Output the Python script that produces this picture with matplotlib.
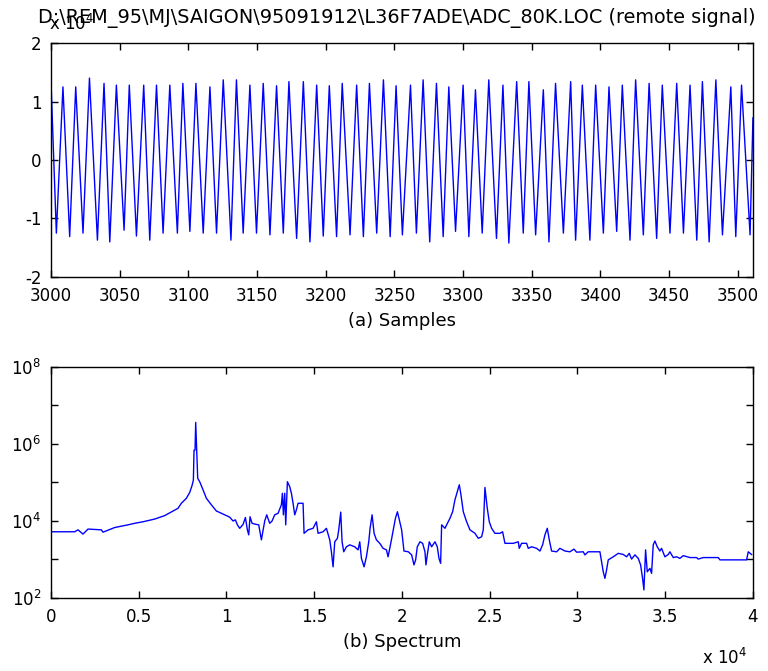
import numpy as np
import matplotlib
matplotlib.use('Agg')
import matplotlib.pyplot as plt
from matplotlib.ticker import FixedLocator, FixedFormatter, NullLocator

plt.rcParams['font.family'] = 'DejaVu Sans'
plt.rcParams['font.size'] = 12
plt.rcParams['axes.unicode_minus'] = False
plt.rcParams['mathtext.fontset'] = 'dejavusans'

# (a) samples: peaks and troughs of each cycle
peak_x = [3000, 3008.7, 3018, 3028, 3038.6, 3047.6, 3057, 3067.5, 3076.8, 3086.5,
          3096, 3105.5, 3115.7, 3125.4, 3135, 3144.8, 3154.5, 3164.2, 3173.2, 3183.7,
          3193.4, 3202.6, 3212, 3222.5, 3231.8, 3242, 3251.2, 3261.7, 3270.9, 3280.6,
          3289.6, 3300, 3309, 3318.7, 3329, 3339, 3347.9, 3358.4, 3367.3, 3378.3,
          3386.8, 3396.5, 3406.2, 3415.9, 3425.6, 3435.4, 3445, 3455.5, 3465.2, 3474.2,
          3484, 3494.9, 3502.7]
peak_y = [13400, 12500, 12500, 14000, 13100, 12800, 12800, 12800, 12800, 12800,
          13100, 13100, 12500, 13700, 13700, 12800, 13100, 12700, 13400, 13400,
          12800, 12700, 13100, 12800, 13100, 13700, 12700, 12800, 13700, 13100,
          12500, 12800, 12000, 13700, 12800, 13400, 13400, 12000, 13100, 13400,
          12800, 12800, 12500, 12800, 13700, 13100, 12800, 13100, 12800, 13400,
          13700, 12500, 12800]
trough_x = [3003.9, 3013.6, 3023.3, 3033.8, 3042.8, 3053.2, 3062.2, 3071.9, 3081.6, 3092,
            3101.1, 3110.8, 3120.5, 3131, 3139.9, 3149.6, 3159.4, 3169.1, 3178.8, 3188.5,
            3198.2, 3207.9, 3217.7, 3227.4, 3237.1, 3246.9, 3255.8, 3266, 3275.7, 3285.5,
            3294.5, 3304.2, 3313.9, 3324.3, 3333.3, 3343.8, 3352.8, 3362.5, 3373, 3381.9,
            3392.3, 3402.1, 3411.8, 3421.5, 3431.2, 3440.9, 3450.6, 3460.4, 3470.1, 3479.1,
            3488.8, 3498.5, 3508.9]
trough_y = [-12500, -13100, -12500, -13700, -14000, -12000, -13000, -13700, -12500, -12500,
            -12200, -12500, -12500, -13700, -12500, -12500, -12800, -12500, -13400, -14000,
            -13000, -13100, -12800, -13100, -12500, -13100, -12800, -12500, -14000, -13100,
            -12200, -13100, -12500, -13400, -14200, -12500, -12800, -14000, -12500, -13700,
            -13700, -12500, -12200, -13700, -12800, -13400, -12500, -12500, -13700, -14000,
            -12800, -13100, -12800]
last_x, last_y = 3511, 7200

# (b) spectrum: frequency (Hz) and log10 magnitude
spec_f = [0, 19, 1349, 1539, 1824, 2109, 2869, 2964, 3629, 4389, 4769, 5244, 5909, 6479,
          6954, 7239, 7429, 7714, 7904, 8037, 8113, 8151, 8208, 8246, 8303, 8360, 8474,
          8664, 8854, 9139, 9424, 9804, 10184, 10374, 10507, 10621, 10754, 10944, 11077,
          11191, 11267, 11343, 11457, 11704, 11837, 11989, 12179, 12293, 12464, 12597,
          12749, 12939, 13129, 13186, 13243, 13319, 13376, 13471, 13604, 13699, 13794,
          13889, 13984, 14079, 14364, 14421, 14649, 14934, 15124, 15219, 15504, 15694,
          15884, 15979, 16074, 16169, 16321, 16397, 16511, 16587, 16682, 16834, 17024,
          17309, 17499, 17594, 17689, 17841, 17974, 18107, 18183, 18297, 18411, 18544,
          18734, 18924, 19114, 19209, 19399, 19627, 19741, 19874, 19981, 20114, 20361,
          20551, 20684, 20779, 20873, 21025, 21177, 21310, 21367, 21443, 21557, 21690,
          21880, 22013, 22108, 22203, 22260, 22450, 22545, 22735, 22886, 23019, 23152,
          23266, 23361, 23494, 23684, 23874, 24159, 24349, 24539, 24634, 24728, 24861,
          24975, 25108, 25298, 25583, 25735, 25868, 26343, 26627, 26684, 26817, 27102,
          27197, 27387, 27672, 27862, 28014, 28147, 28280, 28394, 28526, 28811, 29001,
          29286, 29571, 29799, 29951, 30331, 30425, 30615, 31280, 31375, 31470, 31565,
          31660, 31755, 32040, 32325, 32610, 32800, 32951, 33084, 33274, 33464, 33597,
          33711, 33787, 33882, 33977, 34129, 34223, 34318, 34413, 34546, 34698, 34793,
          34983, 35173, 35268, 35458, 35648, 35838, 36028, 36408, 36788, 36883, 37168,
          38023, 38118, 39638, 39733, 39920]
spec_log = [3.94, 3.72, 3.72, 3.77, 3.66, 3.79, 3.77, 3.71, 3.83, 3.90, 3.94, 3.98, 4.05, 4.14,
            4.26, 4.33, 4.46, 4.59, 4.74, 4.92, 5.06, 5.84, 5.84, 6.56, 5.84, 5.11, 5.02,
            4.81, 4.59, 4.42, 4.26, 4.18, 4.10, 4.00, 4.03, 3.90, 3.81, 3.91, 4.09,
            3.77, 3.64, 4.11, 3.94, 3.91, 3.90, 3.51, 4.00, 4.16, 3.94, 4.00,
            4.16, 4.20, 4.42, 4.72, 4.16, 4.72, 3.90, 5.02, 4.89, 4.72, 4.46,
            4.16, 4.29, 4.46, 4.46, 3.68, 3.77, 3.81, 3.98, 3.68, 3.72, 3.81,
            3.51, 3.20, 2.81, 3.46, 3.55, 3.77, 4.23, 3.46, 3.20, 3.33, 3.38,
            3.33, 3.25, 3.46, 3.03, 2.81, 3.07, 3.46, 3.81, 4.16, 3.68, 3.51,
            3.42, 3.29, 3.25, 3.07, 3.51, 4.07, 4.24, 3.98, 3.77, 3.22, 3.20,
            3.12, 2.86, 2.99, 3.33, 3.46, 3.42, 3.20, 2.86, 3.12, 3.46, 3.33,
            3.46, 3.33, 3.03, 2.90, 3.90, 3.81, 3.90, 4.07, 4.24, 4.55, 4.76,
            4.94, 4.68, 4.24, 3.98, 3.77, 3.68, 3.55, 3.59, 3.77, 4.87, 4.33,
            3.98, 3.81, 3.68, 3.68, 3.72, 3.42, 3.42, 3.46, 3.29, 3.42, 3.42,
            3.29, 3.33, 3.29, 3.22, 3.38, 3.64, 3.81, 3.51, 3.22, 3.20, 3.29,
            3.22, 3.20, 3.27, 3.19, 3.20, 3.12, 3.20, 3.20, 2.94, 2.68, 2.51,
            2.73, 2.99, 3.07, 3.16, 3.13, 3.07, 3.16, 3.01, 3.12, 3.03, 2.86,
            2.51, 2.21, 3.25, 2.68, 2.77, 2.64, 3.38, 3.48, 3.33, 3.22, 3.29,
            3.07, 3.13, 3.20, 3.05, 3.07, 3.03, 3.10, 3.05, 3.05, 3.01, 3.05,
            3.05, 2.99, 2.99, 3.20, 3.13]

title = r'D:\REM_95\MJ\SAIGON\95091912\L36F7ADE\ADC_80K.LOC (remote signal)'

sig_x = []
sig_y = []
for px, py, tx, ty in zip(peak_x, peak_y, trough_x, trough_y):
    sig_x += [px, tx]
    sig_y += [py, ty]
sig_x.append(last_x)
sig_y.append(last_y)

fig = plt.figure(figsize=(7.68, 6.71), dpi=100)

ax1 = fig.add_axes([0.0664, 0.5872, 0.914, 0.3487])
ax1.plot(sig_x, sig_y, color='#0000ff', linewidth=1.0)
ax1.set_xlim(3000, 3511)
ax1.set_ylim(-20000, 20000)
ax1.set_xticks(np.arange(3000, 3501, 50))
ax1.set_yticks([-20000, -10000, 0, 10000, 20000])
ax1.set_yticklabels(['-2', '-1', '0', '1', '2'])
ax1.set_xlabel('(a) Samples', fontsize=13, labelpad=5)

ax2 = fig.add_axes([0.0664, 0.1088, 0.914, 0.3443])
ax2.semilogy(spec_f, 10 ** np.array(spec_log), color='#0000ff', linewidth=1.0)
ax2.set_xlim(0, 40000)
ax2.set_ylim(1e2, 1e8)
ax2.set_xticks(np.arange(0, 40001, 5000))
ax2.set_xticklabels(['0', '0.5', '1', '1.5', '2', '2.5', '3', '3.5', '4'])
ax2.yaxis.set_major_locator(FixedLocator([1e2, 1e3, 1e4, 1e5, 1e6, 1e7, 1e8]))
ax2.yaxis.set_major_formatter(FixedFormatter(['$10^{2}$', '', '$10^{4}$', '', '$10^{6}$', '', '$10^{8}$']))
ax2.yaxis.set_minor_locator(NullLocator())
ax2.set_xlabel('(b) Spectrum', fontsize=13, labelpad=5)

for ax in (ax1, ax2):
    ax.tick_params(direction='in', length=5, width=1, top=True, right=True)
    ax.tick_params(axis='x', pad=7)
    ax.tick_params(axis='y', pad=7)
    for s in ax.spines.values():
        s.set_linewidth(1)

fig.text(0.517, 1 - 18 / 671, title, ha='center', va='center', fontsize=13.9)
fig.text(49 / 768, 1 - 24 / 671, r'x 10$^{4}$', ha='left', va='center', fontsize=12)
fig.text(702 / 768, 1 - 658 / 671, r'x 10$^{4}$', ha='left', va='center', fontsize=12)

fig.savefig('out.png', dpi=100)
